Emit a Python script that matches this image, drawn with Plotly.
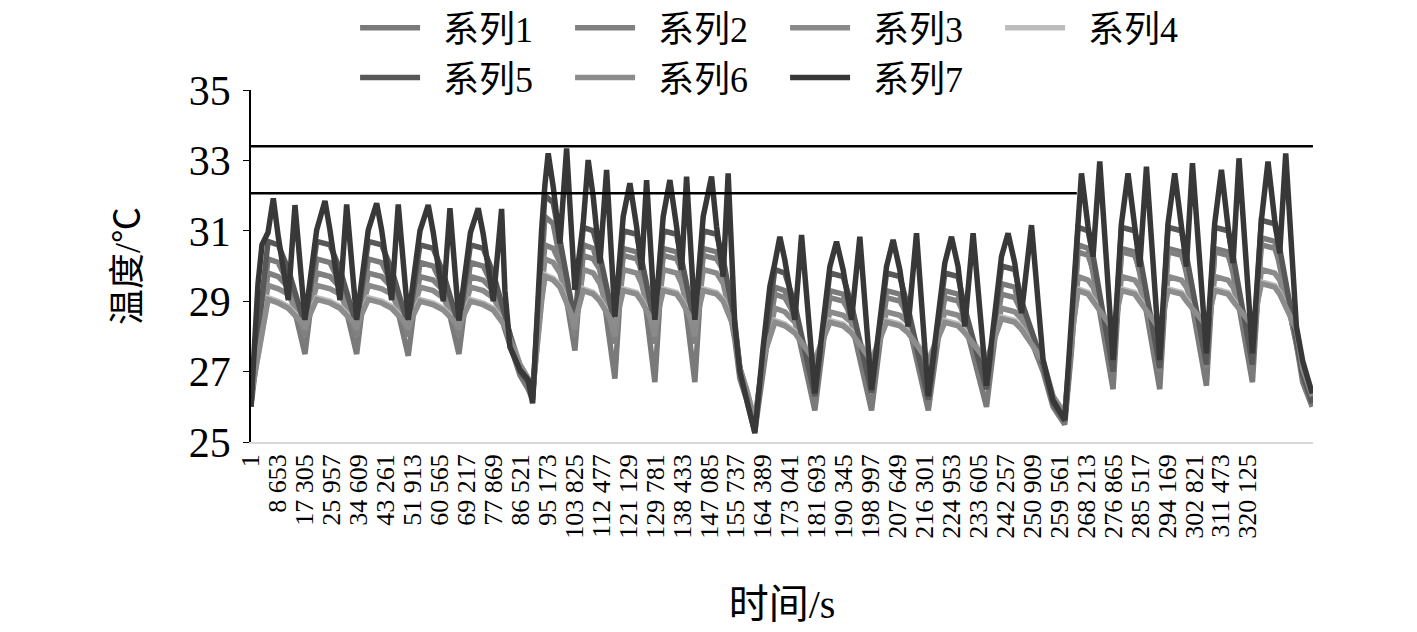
import plotly.graph_objects as go

# ---------------- data ----------------
TICK_LABELS = ["1", "8 653", "17 305", "25 957", "34 609", "43 261", "51 913", "60 565",
               "69 217", "77 869", "86 521", "95 173", "103 825", "112 477", "121 129",
               "129 781", "138 433", "147 085", "155 737", "164 389", "173 041", "181 693",
               "190 345", "198 997", "207 649", "216 301", "224 953", "233 605", "242 257",
               "250 909", "259 561", "268 213", "276 865", "285 517", "294 169", "302 821",
               "311 473", "320 125"]
X_MAX = 341000

# series 7 (darkest, spiky) vertices
T7 = [1, 2250, 3530, 5460, 7160, 8760, 11970, 14120, 17330,
      21090, 23750, 25360, 28570, 30720, 33930,
      37650, 40350, 41950, 45160, 47280, 50490,
      54250, 56910, 58520, 61730, 63880, 66770,
      70460, 72960, 74570, 77780, 80470, 81530, 83140, 86350, 89010, 90430,
      92220, 93310, 94370, 95430, 97040, 99190, 101340, 104000,
      106670, 108270, 109880, 112030, 114180, 116840,
      119510, 121660, 123810, 125410, 127020, 129680,
      132350, 134500, 136650, 138250, 139860, 142520,
      145190, 147880, 149490, 151610, 153210, 155360, 156970, 159120, 161780,
      164450, 166600, 168200, 169810, 171410, 174620, 176780, 181040,
      185860, 188010, 190130, 192820, 195490, 199250,
      204060, 206180, 208330, 210990, 213690, 217480,
      222770, 224920, 227040, 229190, 231860, 236160,
      240980, 243090, 245240, 247400, 250610, 254330, 257540, 261290,
      263450, 265560, 266660, 268770, 270380, 272530, 276800,
      279500, 281610, 283760, 285370, 287520, 291790,
      294450, 296600, 298760, 300360, 302290, 306780,
      309440, 311600, 313710, 315320, 317240, 321550,
      324430, 326550, 328700, 330310, 332240, 335670, 337690, 339390, 340740]
V7 = [26.0, 29.5, 30.6, 30.95, 31.92, 30.83, 29.03, 31.73, 28.47,
      31.02, 31.85, 31.02, 29.03, 31.75, 28.47,
      31.02, 31.78, 31.02, 29.03, 31.75, 28.47,
      31.0, 31.73, 30.95, 29.0, 31.64, 28.45,
      30.95, 31.64, 30.9, 29.0, 31.62, 29.3, 27.7, 27.05, 26.76, 26.1,
      29.32, 31.02, 32.3, 33.2, 32.25, 30.64, 33.34, 29.32,
      31.21, 33.01, 31.97, 30.08, 32.73, 28.56,
      31.4, 32.35, 31.12, 29.89, 32.44, 28.47,
      31.4, 32.44, 31.12, 29.89, 32.54, 28.47,
      31.4, 32.54, 31.12, 29.7, 32.63, 28.3, 27.0, 26.2, 25.25,
      27.7, 29.41, 30.08, 30.83, 30.17, 28.47, 30.88, 26.38,
      29.98, 30.69, 29.89, 28.47, 30.83, 26.48,
      29.98, 30.74, 29.89, 28.28, 30.93, 26.3,
      30.08, 30.83, 29.98, 28.28, 30.93, 26.6,
      30.27, 30.93, 30.08, 28.66, 31.16, 27.33, 26.19, 25.63,
      28.47, 31.4, 32.63, 31.12, 30.27, 32.97, 27.33,
      31.21, 32.63, 31.12, 29.98, 32.82, 27.33,
      31.21, 32.63, 31.12, 29.98, 32.92, 27.52,
      31.21, 32.73, 31.12, 30.08, 33.06, 27.52,
      31.31, 32.97, 31.31, 30.36, 33.2, 28.28, 27.3, 26.76, 26.38]

# shared vertex times of the smoother series 1-6
TG = [1, 5460, 8760, 11970, 17330, 21090, 25360, 28570, 33930, 37650, 41950, 45160,
      50490, 54250, 58520, 61730, 66770, 70460, 74570, 77780, 81530, 86350, 89010, 90430,
      93310, 94370, 97040, 99190, 104000, 106670, 109880, 112030, 116840, 119510, 123810,
      125410, 129680, 132350, 136650, 138250, 142520, 145190, 149490, 151610, 155360,
      156970, 159120, 161780,
      164450, 168200, 171410, 174620, 181040, 185860, 190130, 192820, 199250, 204060,
      208330, 210990, 217480, 222770, 227040, 229190, 236160, 240980, 245240, 247400,
      254330, 257540, 261290,
      263450, 265560, 268770, 270380, 276800, 279500, 283760, 285370, 291790, 294450,
      298760, 300360, 306780, 309440, 313710, 315320, 321550, 324430, 328700, 330310,
      335670, 337690, 340740]

V1 = [26.0, 30.2, 30.1, 29.5, 27.5, 30.2, 30.1, 29.5, 27.5, 30.2, 30.1, 29.5, 27.45, 30.1, 30.0, 29.4, 27.5, 30.1, 30.0, 29.4, 28.2, 26.9, 26.5, 26.2,
      30.0, 31.4, 31.2, 30.2, 27.6, 30.6, 30.5, 29.9, 26.8, 30.5, 30.4, 29.8, 26.7, 30.5, 30.4, 29.8, 26.7, 30.5, 30.4, 29.8, 27.9, 26.8, 26.2, 25.3,
      27.0, 29.4, 29.3, 28.5, 25.9, 29.3, 29.2, 28.4, 25.9, 29.3, 29.2, 28.4, 25.9, 29.3, 29.2, 28.4, 26.0, 29.5, 29.4, 28.6, 27.0, 26.0, 25.5,
      27.6, 30.6, 30.5, 29.8, 26.5, 30.5, 30.4, 29.8, 26.5, 30.5, 30.4, 29.8, 26.6, 30.5, 30.4, 29.8, 26.7, 30.8, 30.7, 30.0, 27.8, 26.7, 26.0]
V2 = [26.2, 29.8, 29.7, 29.4, 28.0, 29.8, 29.7, 29.4, 28.0, 29.8, 29.7, 29.4, 28.0, 29.7, 29.6, 29.3, 28.0, 29.7, 29.6, 29.3, 28.4, 27.1, 26.7, 26.4,
      29.6, 30.6, 30.5, 30.1, 28.0, 30.3, 30.2, 29.9, 27.8, 30.3, 30.2, 29.9, 27.8, 30.3, 30.2, 29.9, 27.8, 30.3, 30.2, 29.9, 28.0, 27.0, 26.4, 25.5,
      27.2, 29.2, 29.1, 28.6, 26.4, 29.1, 29.0, 28.6, 26.5, 29.1, 29.0, 28.6, 26.4, 29.1, 29.0, 28.6, 26.6, 29.2, 29.1, 28.7, 27.1, 26.1, 25.6,
      27.8, 30.4, 30.3, 29.9, 27.0, 30.4, 30.3, 29.9, 27.0, 30.4, 30.3, 29.9, 27.1, 30.4, 30.3, 29.9, 27.2, 30.6, 30.5, 30.1, 27.9, 26.9, 26.1]
V3 = [26.3, 29.45, 29.35, 29.2, 28.2, 29.45, 29.35, 29.2, 28.2, 29.45, 29.35, 29.2, 28.2, 29.4, 29.3, 29.1, 28.2, 29.4, 29.3, 29.1, 28.5, 27.2, 26.8, 26.4,
      29.3, 30.2, 30.1, 29.8, 28.2, 29.9, 29.8, 29.5, 28.0, 29.9, 29.8, 29.5, 28.0, 29.9, 29.8, 29.5, 28.0, 29.9, 29.8, 29.5, 28.1, 27.0, 26.4, 25.5,
      27.3, 28.8, 28.7, 28.4, 26.9, 28.7, 28.6, 28.4, 27.0, 28.7, 28.6, 28.4, 26.9, 28.7, 28.6, 28.4, 27.0, 28.8, 28.7, 28.5, 27.2, 26.2, 25.7,
      27.9, 29.7, 29.6, 29.4, 27.6, 29.7, 29.6, 29.4, 27.6, 29.7, 29.6, 29.4, 27.7, 29.7, 29.6, 29.4, 27.7, 29.9, 29.8, 29.6, 28.0, 27.0, 26.2]
V4 = [26.3, 29.1, 29.0, 28.85, 28.35, 29.1, 29.0, 28.85, 28.35, 29.1, 29.0, 28.85, 28.35, 29.05, 28.95, 28.8, 28.35, 29.05, 28.95, 28.8, 28.35, 27.2, 26.8, 26.4,
      29.05, 29.75, 29.65, 29.45, 28.45, 29.35, 29.25, 29.05, 28.35, 29.35, 29.25, 29.05, 28.35, 29.35, 29.25, 29.05, 28.35, 29.35, 29.25, 29.05, 28.25, 27.1, 26.5, 25.6,
      27.4, 28.45, 28.35, 28.15, 27.35, 28.45, 28.35, 28.15, 27.35, 28.45, 28.35, 28.15, 27.35, 28.45, 28.35, 28.15, 27.35, 28.55, 28.45, 28.25, 27.3, 26.3, 25.8,
      28.0, 29.35, 29.25, 29.05, 28.25, 29.35, 29.25, 29.05, 28.25, 29.35, 29.25, 29.05, 28.35, 29.35, 29.25, 29.05, 28.35, 29.55, 29.45, 29.25, 28.2, 27.1, 26.3]
V5 = [26.1, 30.7, 30.6, 29.9, 28.3, 30.7, 30.6, 29.9, 28.3, 30.7, 30.6, 29.9, 28.3, 30.6, 30.5, 29.8, 28.3, 30.6, 30.5, 29.8, 28.6, 27.0, 26.7, 26.3,
      30.5, 32.0, 31.8, 30.8, 28.4, 31.1, 31.0, 30.3, 28.3, 31.0, 30.9, 30.2, 28.3, 31.0, 30.9, 30.2, 28.3, 31.0, 30.9, 30.2, 28.4, 27.1, 26.4, 25.5,
      27.4, 29.9, 29.8, 28.9, 26.3, 29.8, 29.7, 28.9, 26.4, 29.8, 29.7, 28.8, 26.2, 29.8, 29.7, 28.8, 26.5, 30.0, 29.9, 29.0, 27.2, 26.1, 25.6,
      28.0, 31.1, 31.0, 30.3, 27.0, 31.1, 31.0, 30.3, 27.1, 31.1, 31.0, 30.3, 27.2, 31.1, 31.0, 30.3, 27.2, 31.3, 31.2, 30.5, 28.0, 26.9, 26.1]
V6 = [26.3, 29.05, 28.95, 28.8, 28.3, 29.05, 28.95, 28.8, 28.3, 29.05, 28.95, 28.8, 28.3, 29.0, 28.9, 28.75, 28.3, 29.0, 28.9, 28.75, 28.3, 27.2, 26.8, 26.4,
      29.0, 29.7, 29.6, 29.4, 28.4, 29.3, 29.2, 29.0, 28.3, 29.3, 29.2, 29.0, 28.3, 29.3, 29.2, 29.0, 28.3, 29.3, 29.2, 29.0, 28.2, 27.1, 26.5, 25.6,
      27.4, 28.4, 28.3, 28.1, 27.3, 28.4, 28.3, 28.1, 27.3, 28.4, 28.3, 28.1, 27.3, 28.4, 28.3, 28.1, 27.3, 28.5, 28.4, 28.2, 27.3, 26.3, 25.8,
      28.0, 29.3, 29.2, 29.0, 28.2, 29.3, 29.2, 29.0, 28.2, 29.3, 29.2, 29.0, 28.3, 29.3, 29.2, 29.0, 28.3, 29.5, 29.4, 29.2, 28.2, 27.1, 26.3]

SERIES_NAMES = ["系列1", "系列2", "系列3", "系列4", "系列5", "系列6", "系列7"]
SERIES_COLORS = ["#7a7a7a", "#808080", "#8a8a8a", "#bdbdbd", "#585858", "#8c8c8c", "#383838"]

# reference lines: value and end time
REF_VALUES = [33.4, 32.07]
REF_ENDS = [341000, 265150]

# ---------------- figure ----------------
FONT = "Liberation Serif, 'Times New Roman', 'Noto Sans CJK SC', serif"

xs = [TG, TG, TG, TG, TG, TG, T7]
ys = [V1, V2, V3, V4, V5, V6, V7]

fig = go.Figure()
for name, color, x, y in zip(SERIES_NAMES, SERIES_COLORS, xs, ys):
    fig.add_trace(go.Scatter(x=x, y=y, mode="lines", name="\u2002" + name,
                             line=dict(color=color, width=5.5), hoverinfo="skip"))

for val, end in zip(REF_VALUES, REF_ENDS):
    fig.add_shape(type="line", xref="x", yref="y", x0=0, x1=end, y0=val, y1=val,
                  line=dict(color="black", width=2.5), layer="above")

tick_vals = [int(s.replace(" ", "")) for s in TICK_LABELS]

fig.update_layout(
    width=1417, height=632,
    margin=dict(l=243, r=112, t=82, b=198, autoexpand=False),
    paper_bgcolor="white", plot_bgcolor="white",
    font=dict(family=FONT, color="black"),
    showlegend=True,
    legend=dict(orientation="h", x=0.098, xanchor="left", y=1.262, yanchor="top",
                font=dict(size=36, family=FONT), entrywidth=140, entrywidthmode="pixels",
                itemwidth=60, traceorder="normal", bgcolor="rgba(0,0,0,0)"),
    xaxis=dict(range=[0, X_MAX], tickvals=tick_vals, ticktext=TICK_LABELS,
               tickangle=-90, tickfont=dict(size=26, family=FONT),
               showline=True, linecolor="#d9d9d9", linewidth=1.5, showgrid=False,
               zeroline=False, ticks="", automargin=False,
               title=dict(text="时间/s", font=dict(size=40, family=FONT), standoff=52)),
    yaxis=dict(range=[25, 35], dtick=2, tick0=25, showline=True, linecolor="black",
               linewidth=1.5, ticks="outside", ticklen=6, tickcolor="black",
               showgrid=False, zeroline=False, automargin=False, ticklabelstandoff=4,
               tickfont=dict(size=42, family=FONT),
               title=dict(text="温度/℃", font=dict(size=36, family=FONT), standoff=37)),
)

fig.write_html("out.html")
